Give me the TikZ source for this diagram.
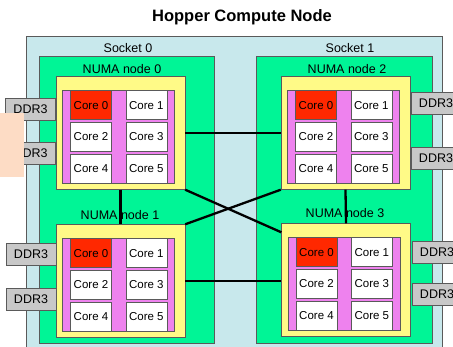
\documentclass[tikz,border=0pt]{standalone}
\usepackage{fontspec}
\setmainfont{Liberation Sans}
\usetikzlibrary{positioning}

\definecolor{socketbg}{RGB}{200,232,236}
\definecolor{numagreen}{RGB}{0,245,150}
\definecolor{dieyellow}{RGB}{255,250,135}
\definecolor{chipviolet}{RGB}{238,130,238}
\definecolor{corered}{RGB}{255,40,0}
\definecolor{ddrgray}{RGB}{200,200,200}
\definecolor{peach}{RGB}{253,220,197}
\definecolor{edgegray}{RGB}{90,90,90}

\tikzset{
  numa/.style={draw=edgegray,fill=dieyellow,minimum width=129pt,minimum height=113pt,inner sep=0pt},
  chip/.style={draw=edgegray,fill=chipviolet,minimum width=112pt,minimum height=93pt,inner sep=0pt},
  core/.style={draw=edgegray,fill=white,minimum width=41pt,minimum height=29pt,inner sep=0pt,font=\fontsize{11.5}{13}\selectfont},
  hot/.style={fill=corered},
  ddr/.style={draw=edgegray,fill=ddrgray,minimum width=50pt,minimum height=22pt,inner sep=0pt,font=\fontsize{12.5}{14}\selectfont},
  lbl/.style={font=\fontsize{12.5}{14}\selectfont},
  link/.style={draw=black,line width=2.3pt}
}

\begin{document}
\begin{tikzpicture}[x=1pt,y=-1pt]
  \useasboundingbox (0,0) rectangle (453,347);

  \draw[edgegray,fill=socketbg] (26,36) rectangle (442,360);
  \draw[edgegray,fill=numagreen] (39,56) rectangle (214,343);
  \draw[edgegray,fill=numagreen] (256,56) rectangle (432,343);

  \node[font=\bfseries\fontsize{16.5}{18}\selectfont] (title) at (242,17) {Hopper Compute Node};
  \node[lbl] (sock0) at (128,48) {Socket 0};
  \node[lbl] (sock1) at (350,48) {Socket 1};
  \node[lbl] (lbl0) at (122,69) {NUMA node 0};
  \node[lbl] (lbl2) at (347,69) {NUMA node 2};
  \node[lbl] (lbl1) at (120,215) {NUMA node 1};
  \node[lbl] (lbl3) at (345,213) {NUMA node 3};

  \foreach \n/\x/\y in {0/120.5/133, 2/345.5/133, 1/120.5/281, 3/346/280} {
    \node[numa] (numa\n) at (\x,\y) {};
    \node[chip] (chip\n) at ([shift={(-2,4)}]numa\n.center) {};
    \node[core] (c\n-2) at ([xshift=-27.5pt]chip\n.center) {Core 2};
    \node[core] (c\n-3) [right=14pt of c\n-2] {Core 3};
    \node[core,hot] (c\n-0) [above=2.5pt of c\n-2] {Core 0};
    \node[core] (c\n-1) [right=14pt of c\n-0] {Core 1};
    \node[core] (c\n-4) [below=2.5pt of c\n-2] {Core 4};
    \node[core] (c\n-5) [right=14pt of c\n-4] {Core 5};
  }

  \node[ddr] (ddr0a) at (30.5,109.5) {DDR3};
  \node[ddr] (ddr0b) at (30.5,153) {DDR3};
  \node[ddr] (ddr1a) at (31,254.5) {DDR3};
  \node[ddr] (ddr1b) at (31,299) {DDR3};
  \node[ddr] (ddr2a) at (436,103.5) {DDR3};
  \node[ddr] (ddr2b) at (436,158.5) {DDR3};
  \node[ddr] (ddr3a) at (437,252) {DDR3};
  \node[ddr] (ddr3b) at (437,294) {DDR3};

  \fill[peach] (0,113) rectangle (24,177);

  \path (numa0.east) edge[link] (numa2.west)
        (numa0.south) edge[link] (numa1.north)
        (numa2.south) edge[link] (numa3.north)
        (numa1.east) edge[link] (numa1.east -| numa3.west)
        (numa0.south east) edge[link] ([yshift=-9pt]numa3.north west)
        (numa2.south west) edge[link] (numa1.north east);
\end{tikzpicture}
\end{document}
